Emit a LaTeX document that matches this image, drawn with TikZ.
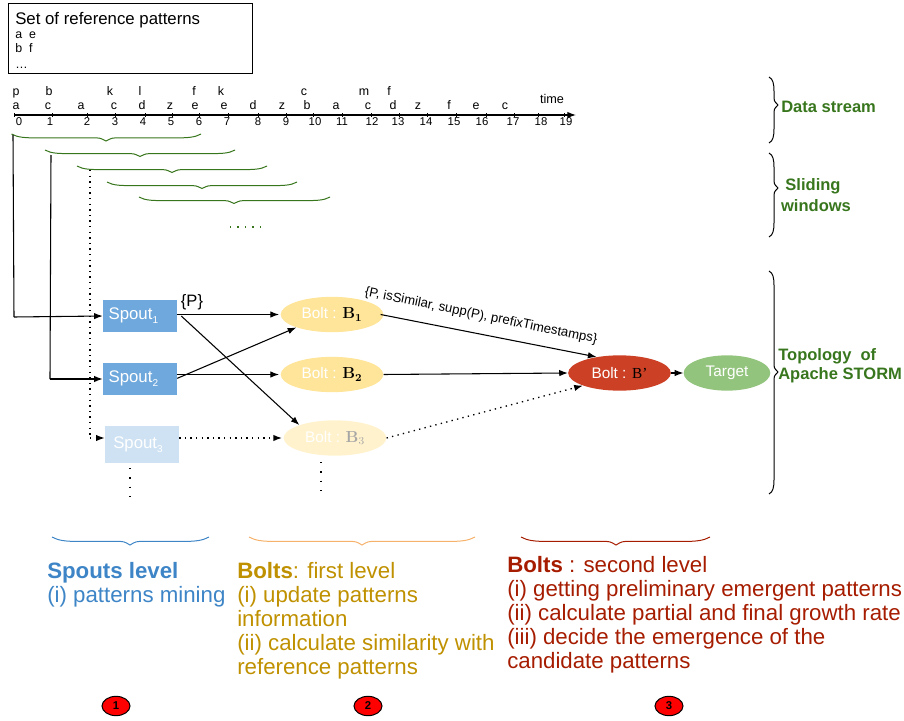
\documentclass[tikz,border=0pt]{standalone}
\usepackage[no-math]{fontspec}
\setmainfont{Liberation Sans}
\usetikzlibrary{arrows.meta,shapes.geometric}
\definecolor{gstream}{HTML}{38761D}
\definecolor{cspout}{HTML}{6FA8DC}
\definecolor{cspoutl}{HTML}{CFE2F3}
\definecolor{cbolt}{HTML}{FFE599}
\definecolor{cboltl}{HTML}{FFF2CC}
\definecolor{cbp}{HTML}{CC4125}
\definecolor{ctarget}{HTML}{93C47D}
\definecolor{tblue}{HTML}{3D85C6}
\definecolor{tgold}{HTML}{BF9000}
\definecolor{tred}{HTML}{A61C00}
\definecolor{borange}{HTML}{F6B26B}
\definecolor{bblue}{HTML}{3D85C6}
\definecolor{bred}{HTML}{A61C00}
\newcommand{\fs}[1]{\fontsize{#1}{#1}\selectfont}
\newcommand{\dn}[1]{\raisebox{-1.5pt}{#1}}
% horizontal brace: colour, x1, tip x, x2, y, height
\newcommand{\hbr}[6][gstream]{\draw[#1,line width=.75pt] (#2,#5) .. controls ({#2+6},{#5+3.5}) and ({#2+14},{#5+#6*.55}) .. ({#2+24},{#5+#6*.55}) -- ({#3-14},{#5+#6*.55}) .. controls ({#3-6},{#5+#6*.55}) .. (#3,{#5+#6}) .. controls ({#3+6},{#5+#6*.55}) .. ({#3+14},{#5+#6*.55}) -- ({#4-24},{#5+#6*.55}) .. controls ({#4-14},{#5+#6*.55}) and ({#4-6},{#5+3.5}) .. (#4,#5);}
% vertical brace: top y, tip y, bottom y
\newcommand{\vbr}[3]{\draw[black,line width=.75pt] (769,#1) .. controls (773,{#1+2}) and (774,{#1+7}) .. (774,{#1+14}) -- (774,{#2-10}) .. controls (774,{#2-4}) .. (778,#2) .. controls (774,{#2+4}) .. (774,{#2+10}) -- (774,{#3-14}) .. controls (774,{#3-7}) and (773,{#3-2}) .. (769,#3);}
\tikzset{
  x=0.75pt,y=-0.75pt,
  arr/.style={-{Latex[length=6.5pt,width=4.8pt]},black,line width=.8pt},
  dotl/.style={line width=1pt,dash pattern=on 1pt off 3.2pt},
  spoutbox/.style={rectangle,fill=#1,minimum width=55.5pt,inner sep=0pt,text=white,font=\fs{12.6},anchor=center},
  bolt/.style={ellipse,fill=#1,minimum width=77pt,minimum height=26.5pt,inner sep=0pt,text=white,font=\fs{11.5}},
  lab/.style={inner sep=0pt,font=\fs{9.3},text=black},
  num/.style={inner sep=0pt,font=\fs{8.5},text=black},
  sidelab/.style={inner sep=0pt,font=\fs{12.4}\bfseries,text=gstream},
  ltext/.style={inner sep=0pt,anchor=base west,font=\fs{16.7}},
  badge/.style={ellipse,draw=black,fill=red,line width=.75pt,minimum width=21pt,minimum height=14.5pt,inner sep=0pt,font=\fs{8.5}\bfseries,text=black},
}
\begin{document}
\begin{tikzpicture}
\useasboundingbox (0,0) rectangle (904,721);
% reference box
\node[draw=black,line width=.6pt,rectangle,minimum width=183pt,minimum height=52.5pt,inner sep=0pt] (refbox) at (130,38) {};
\node[inner sep=0pt,anchor=base west,font=\fs{12.6}] (reft) at (15,24) {Set of reference patterns};
\node[lab,anchor=base west] (r1) at (15,38.5) {a\ \ e};
\node[lab,anchor=base west] (r2) at (15,52.5) {b\ \ f};
\node[lab,anchor=base west] (r3) at (15,68) {\ldots};
% axis
\coordinate (ax0) at (14,115);
\coordinate (ax1) at (576,115);
\draw[arr] (ax0) -- (ax1);
\foreach \x in {14,52,87,115,145,172,199,228,258,286,313,342,371,399,427,456,486,514,538,564}
  \draw[black,line width=.7pt] (\x,113) -- (\x,117);
\foreach \n/\x in {0/19,1/50,2/87,3/115,4/143,5/171,6/199,7/227,8/258,9/286,10/315,11/342,12/372,13/398,14/426,15/454,16/482,17/513,18/541,19/566}
  \node[num] (t\n) at (\x,122) {\n};
\foreach \i/\c/\x in {1/a/16,2/c/48,3/a/81,4/c/114,5/d/142,6/z/170,7/e/195,8/e/224,9/d/253,10/z/282,11/b/307,12/a/336,13/c/368,14/d/393,15/z/418,16/f/449,17/e/476,18/c/505}
  \node[lab,anchor=base] (la\i) at (\x,109) {\c};
\foreach \i/\c/\x in {1/p/16,2/b/49,3/k/110,4/l/140,5/f/194,6/k/221,7/c/304,8/m/364,9/f/389}
  \node[lab,anchor=base] (lb\i) at (\x,95.5) {\c};
\node[lab,font=\fs{9.5}] (time) at (552,99) {time};
% sliding windows
\hbr{11.5}{106}{201}{134}{7}
\hbr{45}{140}{235}{150}{6.5}
\hbr{77}{172}{267}{166}{6.5}
\hbr{107}{202}{297}{182}{6.5}
\hbr{139}{234}{330}{197}{6.5}
\coordinate (d0) at (230,227);
\coordinate (d1) at (261,227);
\draw[gstream,line width=1pt,dash pattern=on 1pt off 4.6pt] (d0) -- (d1);
% side braces
\vbr{77}{105}{143}
\vbr{153}{188}{237}
\vbr{271}{372}{494}
\node[sidelab,anchor=west] (sds) at (781,107) {Data stream};
\node[sidelab] (ssw1) at (813,186) {Sliding};
\node[sidelab] (ssw2) at (816,205.5) {windows};
\node[sidelab,anchor=west] (st1) at (778,356) {Topology\ \ of};
\node[sidelab,anchor=west] (st2) at (778,375) {Apache STORM};
% spouts
\node[spoutbox=cspout,minimum height=24pt] (s1) at (140,316) {\dn{Spout\raisebox{-.45ex}{\fs{7.5}1}\hspace*{10pt}}};
\node[spoutbox=cspout,minimum height=24pt] (s2) at (140,379) {\dn{Spout\raisebox{-.45ex}{\fs{7.5}2}\hspace*{10pt}}};
\node[spoutbox=cspoutl,minimum height=28pt] (s3) at (142,444.5) {\dn{Spout\raisebox{-.45ex}{\fs{7.5}3}\hspace*{6pt}}};
% bolts
\node[bolt=cbolt] (b1) at (332,314.5) {\dn{Bolt : \textcolor{black}{$\mathbf{B}_{\mathbf{1}}$}}};
\node[bolt=cbolt] (b2) at (332,374.5) {\dn{Bolt : \textcolor{black}{$\mathbf{B}_{\mathbf{2}}$}}};
\node[bolt=cboltl] (b3) at (335,438) {\dn{Bolt : \textcolor{black!35}{$\mathbf{B}_{3}$}}};
\node[bolt=cbp] (bp) at (619.5,373) {\dn{Bolt : \textcolor{black}{\fontspec{Liberation Serif}B’}}};
\node[bolt=ctarget,minimum width=65pt] (tg) at (727,373) {\dn{Target}};
% source lines
\coordinate (w1) at (13,135);
\coordinate (c1) at (14,317);
\coordinate (w2) at (51,155);
\coordinate (c2) at (50,379);
\coordinate (w3) at (90,170);
\coordinate (c3) at (90,438);
\draw[black,line width=.8pt] (w1) -- (c1);
\draw[arr] (c1) -- (s1.west);
\draw[black,line width=.8pt] (w2) -- (c2);
\draw[arr] (c2) -- (s2.west);
\draw[dotl,black] (w3) -- (c3);
\draw[arr,dotl] (c3) -- (s3.west |- c3);
% connectors
\draw[arr,shorten >=1pt] (s1.east |- b1.west) -- (b1.west);
\draw[arr] ([xshift=3pt]s1.east) -- (b3.160);
\draw[arr] ([yshift=.5pt]s2.east) -- (b1.200);
\draw[arr,shorten >=1pt] (s2.east |- b2.west) -- (b2.west);
\draw[arr,dotl,shorten >=1pt] (s3.east |- b3.west) -- (b3.west);
\draw[arr] (b1.east) ++(-3,0) coordinate (b1o) -- (bp.145);
\draw[arr] (b2.east) -- (bp.west);
\draw[arr,dotl] (b3.east) -- (bp.199);
\draw[arr] (bp.east) -- (tg.west);
% edge labels
\node[inner sep=0pt,font=\fs{12.4}] (lp) at (192,302) {\{P\}};
\node[inner sep=0pt,font=\fs{9.9},rotate=-11.6] (lq) at (481,316) {\{P, isSimilar, supp(P), prefixTimestamps\}};
% trailing dots
\coordinate (e1) at (130,468);
\coordinate (e2) at (130,498);
\coordinate (e3) at (321,462);
\coordinate (e4) at (321,491);
\draw[dotl,black,dash pattern=on 1pt off 6pt,line width=1.1pt] (e1) -- (e2);
\draw[dotl,black,dash pattern=on 1pt off 6pt,line width=1.1pt] (e3) -- (e4);
% level braces
\hbr[bblue]{52}{130}{209}{537}{8}
\hbr[borange]{249}{362}{475}{537}{8}
\hbr[bred]{521}{616}{710}{537}{8}
% level texts
\node[ltext,text=tblue] (a1) at (47,578) {\textbf{Spouts level}};
\node[ltext,text=tblue] (a2) at (47,602) {(i) patterns mining};
\node[ltext,text=tgold] (g1) at (237,578) {\textbf{Bolts}: first level};
\node[ltext,text=tgold] (g2) at (237,602) {(i) update patterns};
\node[ltext,text=tgold] (g3) at (237,626) {information};
\node[ltext,text=tgold] (g4) at (237,650) {(ii) calculate similarity with};
\node[ltext,text=tgold] (g5) at (237,674) {reference patterns};
\node[ltext,text=tred] (h1) at (507,572) {\textbf{Bolts} : second level};
\node[ltext,text=tred] (h2) at (507,596) {(i) getting preliminary emergent patterns};
\node[ltext,text=tred] (h3) at (507,620) {(ii) calculate partial and final growth rate};
\node[ltext,text=tred] (h4) at (507,644) {(iii) decide the emergence of the};
\node[ltext,text=tred] (h5) at (507,668) {candidate patterns};
% badges
\node[badge] (n1) at (116,706) {1};
\node[badge] (n2) at (368,706) {2};
\node[badge] (n3) at (669,706) {3};
\end{tikzpicture}
\end{document}
